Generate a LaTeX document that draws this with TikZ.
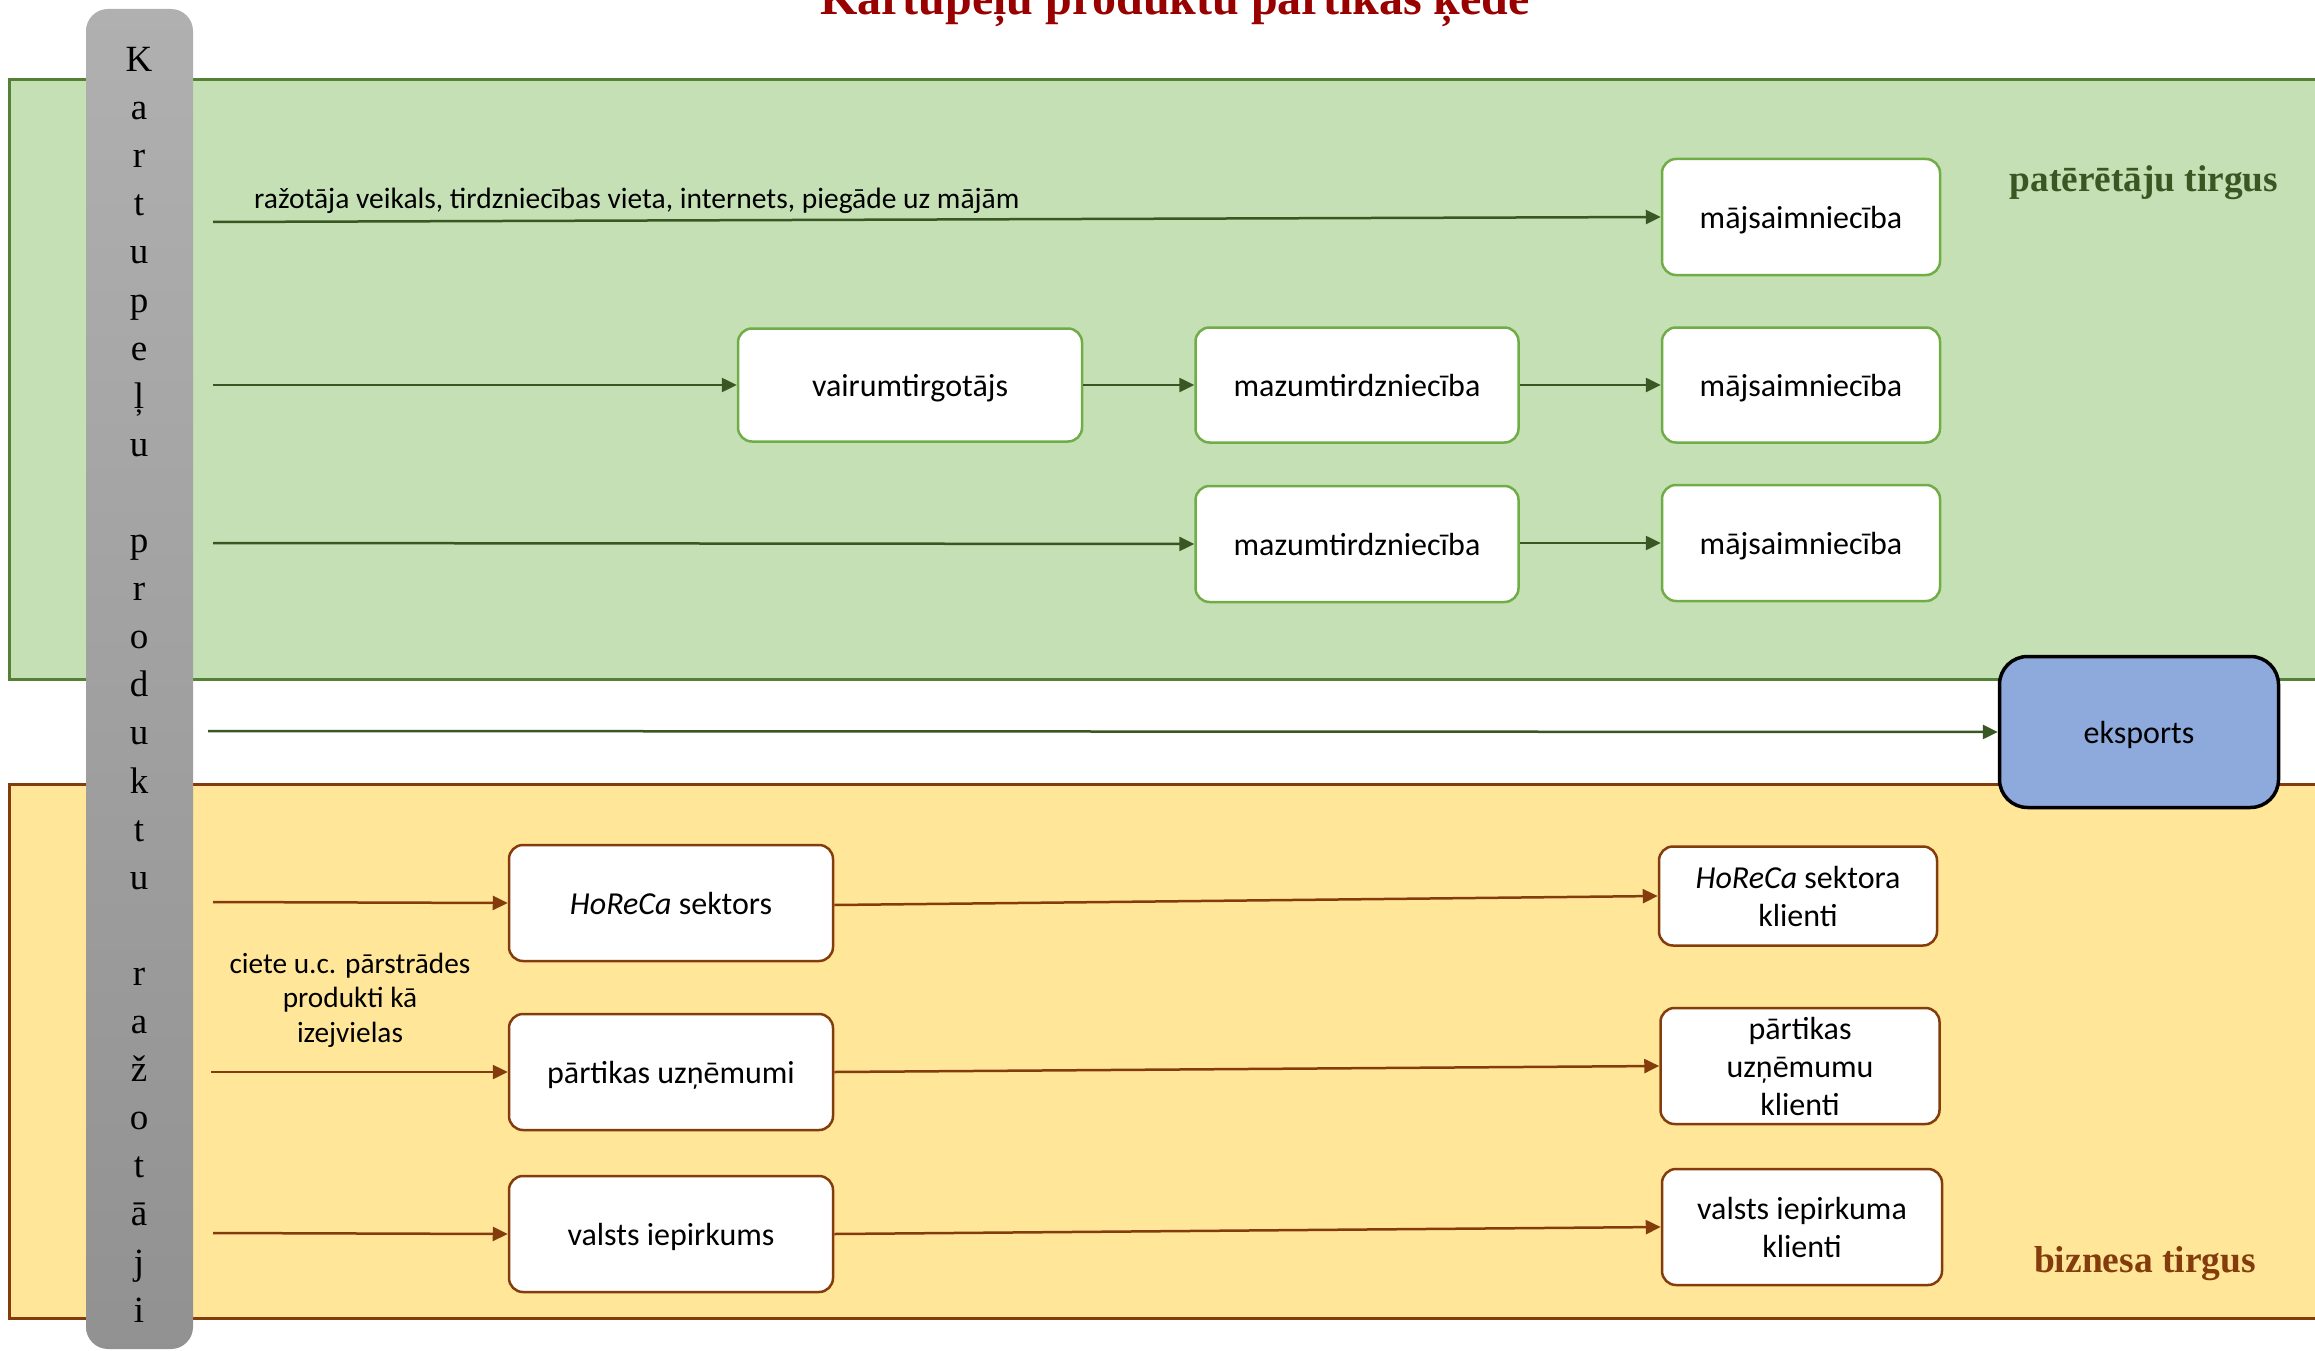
\documentclass[tikz,border=0pt]{standalone}
\usepackage{fontspec}
\setmainfont{Carlito}
\newfontfamily\serif{Liberation Serif}
\usetikzlibrary{arrows.meta}
\definecolor{gfill}{HTML}{C5E0B4}
\definecolor{gline}{HTML}{548235}
\definecolor{gbox}{HTML}{70AD47}
\definecolor{garrow}{HTML}{385723}
\definecolor{yfill}{HTML}{FFE699}
\definecolor{bline}{HTML}{843C0C}
\definecolor{efill}{HTML}{8EA9DB}
\definecolor{titlered}{HTML}{990000}
\tikzset{
  boxtext/.style={font=\fontsize{32}{38}\selectfont, align=center, inner sep=0pt},
  oneline/.style={text depth=0pt},
  gbx/.style={boxtext, draw=gbox, fill=white, line width=2.5pt, rounded corners=14pt},
  ybx/.style={boxtext, draw=bline, fill=white, line width=2.5pt, rounded corners=14pt},
  garr/.style={draw=garrow, line width=2.5pt, -{Triangle[length=15pt,width=14pt]}},
  yarr/.style={draw=bline, line width=2.5pt, -{Triangle[length=15pt,width=14pt]}},
  vletter/.style={font=\serif\fontsize{37}{40}\selectfont, anchor=base, inner sep=0pt},
}
\begin{document}
\begin{tikzpicture}[x=1pt,y=-1pt]
\useasboundingbox (0,0) rectangle (2315,1351);
\fill[white] (0,0) rectangle (2315,1351);
% regions
\draw[fill=gfill, draw=gline, line width=3pt] (9,80) rectangle (2340,679);
\draw[fill=yfill, draw=bline, line width=3pt] (9,784) rectangle (2340,1318);
% title
\node[font=\serif\bfseries\fontsize{48}{52}\selectfont, text=titlered, anchor=base, inner sep=0pt] (title) at (1175,15) {Kartupeļu produktu pārtikas ķēde};
% gray bar
\shade[top color=black!31, bottom color=black!43, rounded corners=22pt] (86,9) rectangle (193,1349);
\foreach \ch [count=\i from 0] in {K,a,r,t,u,p,e,ļ,u,{},p,r,o,d,u,k,t,u,{},r,a,ž,o,t,ā,j,i}{
  \node[vletter] (l\i) at (139,{71.5+48.1*\i}) {\ch};
}
% labels
\node[font=\serif\bfseries\fontsize{37.3}{42}\selectfont, text=garrow, inner sep=0pt] (pt) at (2144,183) {patērētāju tirgus};
\node[font=\serif\bfseries\fontsize{37.5}{42}\selectfont, text=bline, inner sep=0pt] (bt) at (2145,1264) {biznesa tirgus};
% boxes consumer
\node[gbx, oneline, minimum width=278pt, minimum height=116pt] (m1) at (1801,217) {mājsaimniecība};
\node[gbx, oneline, minimum width=344pt, minimum height=113pt] (v2) at (910,385) {vairumtirgotājs};
\node[gbx, oneline, minimum width=323pt, minimum height=115pt] (z2) at (1357,385) {mazumtirdzniecība};
\node[gbx, oneline, minimum width=278pt, minimum height=115pt] (m2) at (1801,385) {mājsaimniecība};
\node[gbx, oneline, minimum width=323pt, minimum height=116pt] (z3) at (1357,544) {mazumtirdzniecība};
\node[gbx, oneline, minimum width=278pt, minimum height=116pt] (m3) at (1801,543) {mājsaimniecība};
% export
\node[boxtext, oneline, draw=black, fill=efill, line width=3.5pt, rounded corners=28pt, minimum width=279pt, minimum height=151pt] (ex) at (2139,732) {eksports};
% business boxes
\node[ybx, oneline, minimum width=324pt, minimum height=116pt] (h1) at (671,903) {\textit{HoReCa} sektors};
\node[ybx, oneline, minimum width=324pt, minimum height=116pt] (p1) at (671,1072) {pārtikas uzņēmumi};
\node[ybx, oneline, minimum width=324pt, minimum height=116pt] (s1) at (671,1234) {valsts iepirkums};
\node[ybx, minimum width=278pt, minimum height=99pt] (h2) at (1798,896) {\textit{HoReCa} sektora\\klienti};
\node[ybx, minimum width=279pt, minimum height=116pt] (p2) at (1800,1066) {pārtikas\\uzņēmumu\\klienti};
\node[ybx, minimum width=280pt, minimum height=116pt] (s2) at (1802,1227) {valsts iepirkuma\\klienti};
% start coordinates
\coordinate (a1) at (213,222);
\coordinate (a2) at (213,385);
\coordinate (a3) at (213,543);
\coordinate (a4) at (208,731);
\coordinate (a5) at (213,902);
\coordinate (a6) at (211,1072);
\coordinate (a7) at (213,1233);
% arrows
\draw[garr] (a1) -- (m1.west);
\node[font=\fontsize{29.5}{36}\selectfont, anchor=base west, inner sep=0pt] (lab1) at (254,208) {ražotāja veikals, tirdzniecības vieta, internets, piegāde uz mājām};
\draw[garr] (a2) -- (v2.west);
\draw[garr] (v2.east) -- (z2.west);
\draw[garr] (z2.east) -- (m2.west);
\draw[garr] (a3) -- (z3.west);
\draw[garr] ([yshift=1pt]z3.east) -- (m3.west);
\draw[garr] (a4) -- (ex.west);
\draw[yarr] (a5) -- (h1.west);
\draw[yarr] (a6) -- (p1.west);
\draw[yarr] (a7) -- (s1.west);
\draw[yarr] ([yshift=-2pt]h1.east) -- (h2.west);
\draw[yarr] (p1.east) -- (p2.west);
\draw[yarr] (s1.east) -- (s2.west);
\node[font=\fontsize{29.3}{34.5}\selectfont, align=center, inner sep=0pt] (lab2) at (350,1000) {ciete u.c. pārstrādes\\produkti kā\\izejvielas};
\end{tikzpicture}
\end{document}
